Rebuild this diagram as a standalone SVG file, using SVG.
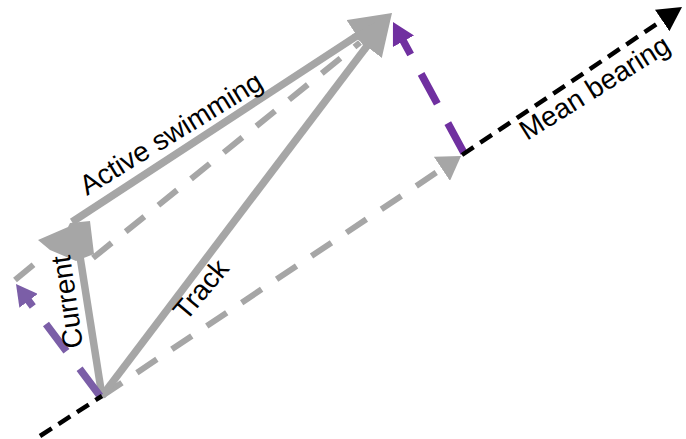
<svg xmlns="http://www.w3.org/2000/svg" width="686" height="439" viewBox="0 0 686 439">
<style>
.g{stroke:#a6a6a6;fill:none;stroke-width:7.5}
.gd{stroke:#a6a6a6;fill:none;stroke-width:6;stroke-dasharray:24 18}
.p1{stroke:#7b5ea7;fill:none;stroke-width:7.5;stroke-dasharray:34 22}
.p2{stroke:#7030a0;fill:none;stroke-width:7.5;stroke-dasharray:34 22}
.k{stroke:#000;fill:none;stroke-width:4.5;stroke-dasharray:14 8}
text{font-family:"Liberation Sans",Arial,sans-serif;font-size:28px;fill:#000}
</style>
<defs>
<marker id="ag" markerUnits="userSpaceOnUse" viewBox="0 0 42 38" markerWidth="42" markerHeight="38" refX="22" refY="19" orient="auto"><path d="M0,0 L42,19 L0,38 z" fill="#a6a6a6"/></marker>
<marker id="ags" markerUnits="userSpaceOnUse" viewBox="0 0 23 29" markerWidth="23" markerHeight="29" refX="13" refY="14.5" orient="auto"><path d="M0,0 L23,14.5 L0,29 z" fill="#a6a6a6"/></marker>
<marker id="ap1" markerUnits="userSpaceOnUse" viewBox="0 0 21 23" markerWidth="21" markerHeight="23" refX="9" refY="11.5" orient="auto"><path d="M0,0 L21,11.5 L0,23 z" fill="#7b5ea7"/></marker>
<marker id="ap2" markerUnits="userSpaceOnUse" viewBox="0 0 22 24" markerWidth="22" markerHeight="24" refX="10" refY="12" orient="auto"><path d="M0,0 L22,12 L0,24 z" fill="#7030a0"/></marker>
<marker id="ak" markerUnits="userSpaceOnUse" viewBox="0 0 24 26" markerWidth="24" markerHeight="26" refX="16" refY="13" orient="auto"><path d="M0,0 L24,13 L0,26 z" fill="#000"/></marker>
</defs>
<g id="connectors">
<line class="gd" x1="102" y1="396" x2="452.7" y2="161.6" marker-end="url(#ags)"/>
<line class="gd" x1="93" y1="258" x2="360" y2="42.5"/>
<line class="gd" x1="15" y1="280" x2="44" y2="256"/>
<line class="g" x1="102" y1="396" x2="79" y2="250"/>
<line class="g" x1="72" y1="222" x2="375.3" y2="23.9" marker-end="url(#ag)"/>
<line class="g" x1="102" y1="396" x2="379.9" y2="28.9" marker-end="url(#ag)"/>
<polygon points="38,240 68,227 70,223 90,221 94,254 76,261 50,250" fill="#a6a6a6"/>
<line class="p1" x1="100" y1="396" x2="23.2" y2="293.6" marker-end="url(#ap1)"/>
<line class="p2" x1="464" y1="153" x2="398.7" y2="32.5" marker-end="url(#ap2)"/>
<line class="k" x1="40" y1="436" x2="102" y2="396"/>
<line class="k" x1="462" y1="155" x2="675.4" y2="11.5" marker-end="url(#ak)"/>
</g>
<g id="label-active"><text transform="translate(87,196) rotate(-31.5)">Active swimming</text></g>
<g id="label-track"><text transform="translate(186,322) rotate(-50)">Track</text></g>
<g id="label-current"><text transform="translate(83,347) rotate(-98)">Current</text></g>
<g id="label-mean"><text transform="translate(527,141) rotate(-32)">Mean bearing</text></g>
</svg>
